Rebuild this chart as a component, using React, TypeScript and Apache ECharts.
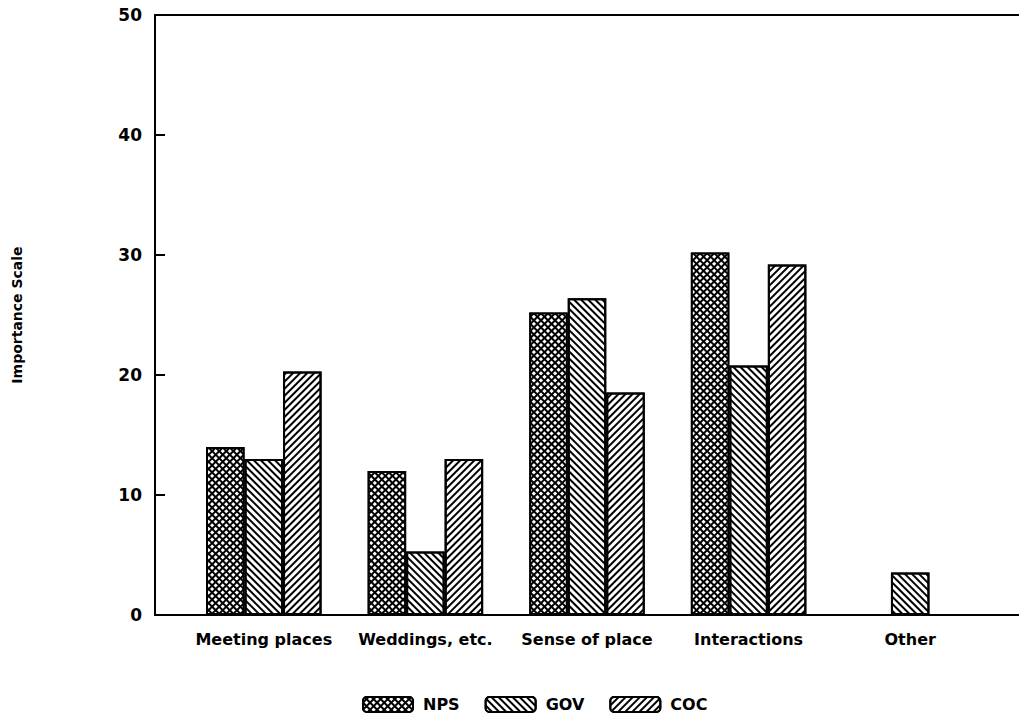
import React, { useEffect, useRef } from "react";
import * as echarts from "echarts";

const categories = ["Meeting places", "Weddings, etc.", "Sense of place", "Interactions", "Other"];
const npsValues = [14.0, 12.0, 25.2, 30.2, null];
const govValues = [13.0, 5.3, 26.4, 20.8, 3.55];
const cocValues = [20.3, 13.0, 18.55, 29.2, null];
const yTicks = [0, 10, 20, 30, 40, 50];

const FONT = "DejaVu Sans";

export default function App() {
  const ref = useRef<HTMLDivElement>(null);
  useEffect(() => {
    if (!ref.current) return;
    const chart = echarts.init(ref.current, null, { renderer: "svg" });
    const border = { borderColor: "#000", borderWidth: 2 };
    const npsDecal = {
      symbol: "rect",
      symbolSize: 1,
      dashArrayX: [3, 2],
      dashArrayY: [3, 2],
      rotation: Math.PI / 4,
      color: "#fff",
      backgroundColor: "#000",
    };
    const govDecal = {
      symbol: "rect",
      symbolSize: 1,
      dashArrayX: [1, 0],
      dashArrayY: [2, 3],
      rotation: Math.PI / 4,
      color: "#000",
      backgroundColor: "#fff",
    };
    const cocDecal = { ...govDecal, rotation: -Math.PI / 4 };
    chart.setOption({
      animation: false,
      backgroundColor: "#fff",
      textStyle: { fontFamily: FONT },
      grid: [
        { left: 155, right: 0, top: 15, bottom: 110 },
        { left: 183, right: 28, top: 15, bottom: 110 },
      ],
      legend: {
        left: 362,
        top: 696,
        padding: 0,
        itemWidth: 50,
        itemHeight: 15,
        itemGap: 25,
        textStyle: { fontFamily: FONT, fontWeight: "bold", fontSize: 16, color: "#000", padding: [0, 0, 0, 5] },
        data: ["NPS", "GOV", "COC"],
      },
      xAxis: [
        {
          gridIndex: 0, type: "value", min: 0, max: 1, position: "bottom",
          axisLine: { show: true, lineStyle: { color: "#000", width: 2 } },
          axisTick: { show: false }, axisLabel: { show: false }, splitLine: { show: false },
        },
        {
          gridIndex: 0, type: "value", min: 0, max: 1, position: "top",
          axisLine: { show: true, lineStyle: { color: "#000", width: 2 } },
          axisTick: { show: false }, axisLabel: { show: false }, splitLine: { show: false },
        },
        {
          gridIndex: 1, type: "category", data: categories,
          axisLine: { show: false }, axisTick: { show: false },
          axisLabel: { fontFamily: FONT, fontWeight: "bold", fontSize: 16, color: "#000", margin: 16, interval: 0 },
        },
      ],
      yAxis: [
        {
          gridIndex: 0, type: "value", min: yTicks[0], max: yTicks[yTicks.length - 1], interval: 10,
          name: "Importance Scale", nameLocation: "middle", nameGap: 131, nameRotate: 90,
          nameTextStyle: { fontFamily: FONT, fontWeight: "bold", fontSize: 14, color: "#000" },
          axisLine: { show: true, lineStyle: { color: "#000", width: 2 } },
          axisTick: { show: true, inside: true, length: 10, lineStyle: { color: "#000", width: 2 } },
          axisLabel: { fontFamily: FONT, fontWeight: "bold", fontSize: 17, color: "#000", margin: 13 },
          splitLine: { show: false },
        },
        {
          gridIndex: 1, type: "value", min: 0, max: 50, show: false,
        },
      ],
      series: [
        {
          name: "NPS", type: "bar", xAxisIndex: 2, yAxisIndex: 1, data: npsValues,
          barWidth: 38.5, barGap: "0%",
          itemStyle: { color: "#000", ...border, decal: npsDecal },
        },
        {
          name: "GOV", type: "bar", xAxisIndex: 2, yAxisIndex: 1, data: govValues,
          barWidth: 38.5, barGap: "0%",
          itemStyle: { color: "#fff", ...border, decal: govDecal },
        },
        {
          name: "COC", type: "bar", xAxisIndex: 2, yAxisIndex: 1, data: cocValues,
          barWidth: 38.5, barGap: "0%",
          itemStyle: { color: "#fff", ...border, decal: cocDecal },
        },
      ],
    });
    return () => chart.dispose();
  }, []);
  return (
    <div
      ref={ref}
      style={{ position: "absolute", left: 0, top: 0, width: 1019, height: 725, background: "#fff" }}
    />
  );
}
